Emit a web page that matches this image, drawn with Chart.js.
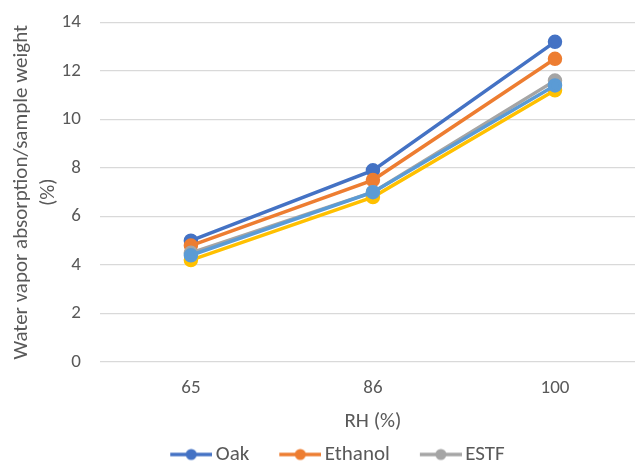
<!DOCTYPE html>
<html>
<head>
<meta charset="utf-8">
<script src="https://cdn.jsdelivr.net/npm/chart.js@4/dist/chart.umd.min.js"></script>
<style>
  html, body { margin: 0; padding: 0; background: #fff; overflow: hidden; width: 635px; height: 466px; }
  #wrap { position: relative; top: -8px; width: 655px; height: 483px; }
</style>
</head>
<body>
<div id="wrap"><canvas id="c"></canvas></div>
<script>
// Relative humidity levels (%)
const categories = ['65', '86', '100'];

// Water vapor absorption per sample weight (%)
const oak     = [5.0, 7.9, 13.2];
const ethanol = [4.8, 7.5, 12.5];
const estf    = [4.5, 7.0, 11.6];
const series4 = [4.2, 6.8, 11.2];
const series5 = [4.4, 7.0, 11.4];

const yTicks = [0, 2, 4, 6, 8, 10, 12, 14];

const FONT = 'Carlito, Lato, "Open Sans", sans-serif';
const TEXT = '#595959';

const LEG_W = 55;   // legend symbol box width
const LEG_K = 7;    // symbol overhang towards the label

// Legend symbol: short line with a dot, sitting right next to its label
function lineMarker(color) {
  const w = LEG_W + 2 * LEG_K, h = 14, len = 42;
  const cv = document.createElement('canvas');
  cv.width = w; cv.height = h;
  const g = cv.getContext('2d');
  g.strokeStyle = color; g.lineWidth = 3.5;
  g.beginPath(); g.moveTo(w - len, h / 2); g.lineTo(w, h / 2); g.stroke();
  g.fillStyle = color;
  g.beginPath(); g.arc(w - len / 2, h / 2, 5.5, 0, Math.PI * 2); g.fill();
  return cv;
}

function series(label, data, color, order) {
  return {
    label, data, order,
    borderColor: color, backgroundColor: color,
    pointBackgroundColor: color, pointBorderColor: color,
    borderWidth: 3.5, pointRadius: 5.5, pointHoverRadius: 5.5,
    tension: 0, fill: false
  };
}

const datasets = [
  series('Oak', oak, '#4472C4', 5),
  series('Ethanol', ethanol, '#ED7D31', 4),
  series('ESTF', estf, '#A5A5A5', 3),
  series('Series 4', series4, '#FFC000', 2),
  series('Series 5', series5, '#5B9BD5', 1)
];

new Chart(document.getElementById('c'), {
  type: 'line',
  data: { labels: categories, datasets },
  options: {
    responsive: true,
    maintainAspectRatio: false,
    animation: false,
    layout: { padding: { top: 0, left: 4, right: 4, bottom: 0 } },
    plugins: {
      tooltip: { enabled: false },
      legend: {
        position: 'bottom',
        labels: {
          color: TEXT,
          font: { family: FONT, size: 21 },
          usePointStyle: true,
          pointStyleWidth: LEG_W,
          boxHeight: 14,
          padding: 10,
          generateLabels: (chart) => chart.data.datasets.slice(0, 3).map((ds, i) => ({
            text: ds.label,
            fillStyle: ds.borderColor,
            strokeStyle: ds.borderColor,
            fontColor: TEXT,
            lineWidth: 0,
            pointStyle: lineMarker(ds.borderColor),
            datasetIndex: i,
            hidden: false
          }))
        }
      }
    },
    scales: {
      x: {
        offset: true,
        grid: { display: false, drawTicks: false },
        border: { display: false },
        ticks: { color: TEXT, font: { family: FONT, size: 19 }, padding: 15 },
        title: { display: true, text: 'RH (%)', color: TEXT, font: { family: FONT, size: 21 }, padding: { top: -6, bottom: 0 } }
      },
      y: {
        min: 0, max: 14,
        afterBuildTicks: (scale) => { scale.ticks = yTicks.map(v => ({ value: v })); },
        grid: { color: '#D9D9D9', lineWidth: 1.3, drawTicks: false },
        border: { display: false },
        ticks: { color: TEXT, font: { family: FONT, size: 19 }, padding: 19 },
        title: {
          display: true,
          text: ['Water vapor absorption/sample weight', '(%)'],
          color: TEXT,
          font: { family: FONT, size: 21, lineHeight: 1.3 },
          padding: { top: 4, bottom: -20 }
        }
      }
    }
  }
});
</script>
</body>
</html>
